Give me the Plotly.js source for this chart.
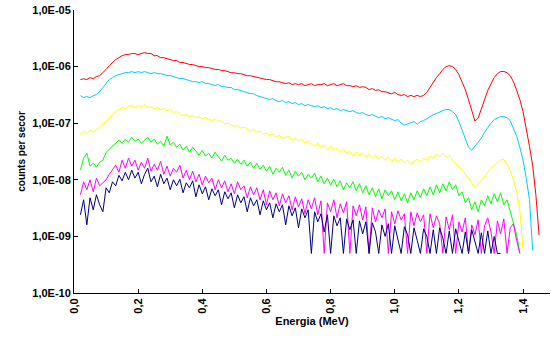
<!DOCTYPE html>
<html>
<head>
<meta charset="utf-8">
<script src="https://cdn.plot.ly/plotly-3.0.1.min.js"></script>
<style>html,body{margin:0;padding:0;background:#fff;}#chart{width:551px;height:342px;}</style>
</head>
<body>
<div id="chart"></div>
<script>
// Energy (MeV) of sampled channels
const energy = [0.02,0.03,0.04,0.05,0.06,0.07,0.08,0.09,0.10,0.11,
0.12,0.13,0.14,0.15,0.16,0.17,0.18,0.19,0.20,0.21,
0.22,0.23,0.24,0.25,0.26,0.27,0.28,0.29,0.30,0.31,
0.32,0.33,0.34,0.35,0.36,0.37,0.38,0.39,0.40,0.41,
0.42,0.43,0.44,0.45,0.46,0.47,0.48,0.49,0.50,0.51,
0.52,0.53,0.54,0.55,0.56,0.57,0.58,0.59,0.60,0.61,
0.62,0.63,0.64,0.65,0.66,0.67,0.68,0.69,0.70,0.71,
0.72,0.73,0.74,0.75,0.76,0.77,0.78,0.79,0.80,0.81,
0.82,0.83,0.84,0.85,0.86,0.87,0.88,0.89,0.90,0.91,
0.92,0.93,0.94,0.95,0.96,0.97,0.98,0.99,1.00,1.01,
1.02,1.03,1.04,1.05,1.06,1.07,1.08,1.09,1.10,1.11,
1.12,1.13,1.14,1.15,1.16,1.17,1.18,1.19,1.20,1.21,
1.22,1.23,1.24,1.25,1.26,1.27,1.28,1.29,1.30,1.31,
1.32,1.33,1.34,1.35,1.36,1.37,1.38,1.39,1.40,1.41,
1.42,1.43,1.44,1.45];

const redSeries = [5.9e-7,6.1e-7,5.9e-7,6.4e-7,6.1e-7,6.7e-7,6.9e-7,7.8e-7,8.9e-7,1.04e-6,
1.18e-6,1.33e-6,1.44e-6,1.56e-6,1.63e-6,1.63e-6,1.70e-6,1.70e-6,1.63e-6,1.70e-6,
1.77e-6,1.70e-6,1.70e-6,1.56e-6,1.56e-6,1.44e-6,1.44e-6,1.38e-6,1.33e-6,1.28e-6,
1.28e-6,1.18e-6,1.18e-6,1.13e-6,1.09e-6,1.09e-6,1.04e-6,1.0e-6,1.0e-6,9.6e-7,
9.6e-7,9.2e-7,8.9e-7,8.9e-7,8.5e-7,8.5e-7,8.2e-7,7.8e-7,7.8e-7,7.5e-7,
7.5e-7,7.2e-7,6.9e-7,6.9e-7,6.7e-7,6.4e-7,6.4e-7,6.1e-7,5.9e-7,5.9e-7,
5.7e-7,5.4e-7,5.4e-7,5.2e-7,5.0e-7,5.2e-7,4.8e-7,5.0e-7,4.8e-7,5.0e-7,
4.6e-7,4.8e-7,5.0e-7,4.6e-7,4.8e-7,4.8e-7,5.0e-7,4.6e-7,4.8e-7,5.0e-7,
4.6e-7,4.8e-7,5.0e-7,4.6e-7,4.6e-7,4.4e-7,4.6e-7,4.3e-7,4.4e-7,4.3e-7,
3.9e-7,4.1e-7,3.8e-7,3.9e-7,3.6e-7,3.6e-7,3.5e-7,3.3e-7,3.5e-7,3.2e-7,
3.1e-7,3.2e-7,2.95e-7,3.1e-7,2.95e-7,3.1e-7,2.95e-7,3.1e-7,3.5e-7,4.3e-7,
5.2e-7,6.4e-7,7.5e-7,8.9e-7,1.0e-6,1.04e-6,1.0e-6,8.9e-7,7.2e-7,5.4e-7,
3.9e-7,2.6e-7,1.67e-7,1.09e-7,1.23e-7,1.74e-7,2.6e-7,3.8e-7,5.0e-7,6.4e-7,
7.5e-7,8.2e-7,8.2e-7,7.8e-7,6.9e-7,5.4e-7,3.8e-7,2.6e-7,1.6e-7,8.2e-8,
3.9e-8,1.8e-8,5.4e-9,1.05e-9];

const cyanSeries = [3.07e-7,2.83e-7,2.95e-7,2.83e-7,3.07e-7,3.20e-7,3.62e-7,4.26e-7,5.01e-7,5.89e-7,
6.39e-7,6.94e-7,7.22e-7,7.52e-7,7.84e-7,7.84e-7,8.16e-7,7.84e-7,8.16e-7,7.84e-7,
8.16e-7,7.84e-7,7.52e-7,7.84e-7,7.52e-7,7.52e-7,7.22e-7,6.94e-7,6.94e-7,6.66e-7,
6.39e-7,6.14e-7,6.14e-7,5.89e-7,5.66e-7,5.43e-7,5.43e-7,5.22e-7,5.43e-7,5.01e-7,
5.01e-7,4.81e-7,4.62e-7,4.81e-7,4.43e-7,4.43e-7,4.26e-7,4.26e-7,3.92e-7,3.92e-7,
3.77e-7,3.62e-7,3.47e-7,3.33e-7,3.33e-7,3.07e-7,2.95e-7,2.83e-7,2.72e-7,2.61e-7,
2.72e-7,2.51e-7,2.41e-7,2.51e-7,2.31e-7,2.41e-7,2.22e-7,2.31e-7,2.13e-7,2.22e-7,
2.04e-7,2.13e-7,2.04e-7,1.96e-7,2.04e-7,1.88e-7,1.96e-7,1.81e-7,1.88e-7,1.74e-7,
1.81e-7,1.67e-7,1.74e-7,1.67e-7,1.60e-7,1.67e-7,1.54e-7,1.48e-7,1.54e-7,1.42e-7,
1.36e-7,1.42e-7,1.31e-7,1.25e-7,1.31e-7,1.20e-7,1.25e-7,1.16e-7,1.11e-7,1.16e-7,
1.0e-7,9.22e-8,9.6e-8,1.0e-7,1.07e-7,9.6e-8,1.07e-7,1.11e-7,1.20e-7,1.31e-7,
1.42e-7,1.48e-7,1.60e-7,1.67e-7,1.74e-7,1.74e-7,1.60e-7,1.42e-7,1.07e-7,7.52e-8,
5.01e-8,3.77e-8,3.33e-8,3.92e-8,4.43e-8,5.43e-8,6.94e-8,8.5e-8,1.0e-7,1.16e-7,
1.25e-7,1.31e-7,1.31e-7,1.25e-7,1.11e-7,8.16e-8,5.89e-8,3.77e-8,2.22e-8,1.07e-8,
4.43e-9,5.66e-10];

const yellowSeries = [6.39e-8,7.22e-8,6.66e-8,7.52e-8,6.94e-8,7.84e-8,8.5e-8,9.6e-8,1.11e-7,1.25e-7,
1.42e-7,1.60e-7,1.74e-7,1.88e-7,1.81e-7,1.96e-7,2.04e-7,1.88e-7,2.04e-7,1.96e-7,
2.13e-7,1.88e-7,1.96e-7,1.81e-7,1.88e-7,1.74e-7,1.81e-7,1.67e-7,1.74e-7,1.54e-7,
1.60e-7,1.48e-7,1.36e-7,1.42e-7,1.31e-7,1.36e-7,1.25e-7,1.31e-7,1.20e-7,1.25e-7,
1.16e-7,1.11e-7,1.20e-7,1.07e-7,1.11e-7,9.6e-8,1.0e-7,9.22e-8,8.85e-8,9.22e-8,
8.16e-8,8.5e-8,7.84e-8,7.22e-8,7.84e-8,6.94e-8,7.22e-8,6.39e-8,6.66e-8,6.14e-8,
6.39e-8,5.66e-8,6.14e-8,5.43e-8,5.66e-8,5.89e-8,5.01e-8,5.43e-8,4.81e-8,5.22e-8,
4.43e-8,4.81e-8,4.26e-8,3.92e-8,4.43e-8,3.77e-8,4.09e-8,3.47e-8,3.92e-8,3.33e-8,
3.62e-8,3.07e-8,3.47e-8,2.95e-8,3.20e-8,2.61e-8,3.07e-8,2.72e-8,2.95e-8,2.51e-8,
2.83e-8,2.41e-8,2.72e-8,2.31e-8,2.61e-8,2.22e-8,2.51e-8,2.13e-8,2.41e-8,2.04e-8,
2.31e-8,1.96e-8,2.22e-8,1.88e-8,2.13e-8,2.31e-8,2.04e-8,2.41e-8,2.22e-8,2.61e-8,
2.41e-8,2.83e-8,2.61e-8,2.95e-8,2.51e-8,2.72e-8,2.22e-8,1.96e-8,1.74e-8,1.48e-8,
1.25e-8,1.07e-8,8.85e-9,7.22e-9,8.5e-9,1.0e-8,1.16e-8,1.36e-8,1.60e-8,1.81e-8,
2.04e-8,2.22e-8,2.31e-8,1.88e-8,1.48e-8,1.0e-8,6.14e-9,2.95e-9,5.66e-10];

const greenSeries = [1.48e-8,2.41e-8,2.95e-8,1.74e-8,1.96e-8,1.67e-8,2.04e-8,2.22e-8,3.07e-8,3.47e-8,
3.92e-8,4.26e-8,5.01e-8,4.43e-8,5.22e-8,4.62e-8,5.66e-8,4.81e-8,5.22e-8,4.43e-8,
5.01e-8,5.66e-8,4.62e-8,5.22e-8,4.26e-8,4.81e-8,3.92e-8,5.89e-8,4.09e-8,4.62e-8,
3.77e-8,4.26e-8,3.33e-8,3.92e-8,3.07e-8,3.77e-8,3.20e-8,2.72e-8,3.33e-8,2.61e-8,
2.95e-8,2.41e-8,3.07e-8,2.51e-8,2.13e-8,2.72e-8,2.22e-8,2.41e-8,1.96e-8,2.31e-8,
1.88e-8,2.22e-8,1.74e-8,2.04e-8,1.60e-8,1.96e-8,1.54e-8,1.81e-8,1.42e-8,1.74e-8,
1.25e-8,1.60e-8,1.36e-8,1.67e-8,1.20e-8,1.48e-8,1.07e-8,1.42e-8,1.16e-8,1.36e-8,
1.0e-8,1.25e-8,1.07e-8,1.31e-8,9.22e-9,1.16e-8,8.5e-9,1.07e-8,8.16e-9,1.02e-8,
7.52e-9,9.6e-9,6.66e-9,8.85e-9,7.22e-9,9.22e-9,6.39e-9,8.5e-9,5.89e-9,7.84e-9,
5.43e-9,7.22e-9,5.01e-9,6.94e-9,4.62e-9,6.66e-9,5.22e-9,6.39e-9,4.43e-9,6.14e-9,
4.26e-9,5.66e-9,3.92e-9,5.89e-9,4.43e-9,6.39e-9,4.81e-9,6.94e-9,5.22e-9,7.52e-9,
5.43e-9,8.16e-9,5.89e-9,8.5e-9,6.39e-9,9.22e-9,6.66e-9,8.16e-9,5.22e-9,6.14e-9,
3.92e-9,4.81e-9,2.95e-9,4.09e-9,2.72e-9,4.43e-9,3.47e-9,5.22e-9,3.77e-9,5.66e-9,
4.09e-9,5.89e-9,3.62e-9,4.43e-9,2.72e-9,1.81e-9,1.07e-9,5.01e-10];

const magentaSeries = [5.43e-9,9.22e-9,6.66e-9,1.0e-8,6.14e-9,1.07e-8,7.84e-9,8.85e-9,1.0e-8,1.25e-8,
1.48e-8,1.81e-8,1.36e-8,2.22e-8,1.60e-8,2.41e-8,1.74e-8,2.22e-8,1.48e-8,2.04e-8,
1.60e-8,2.41e-8,1.42e-8,1.88e-8,1.48e-8,2.13e-8,1.25e-8,1.74e-8,1.16e-8,1.60e-8,
1.36e-8,1.81e-8,1.07e-8,1.48e-8,1.0e-8,1.42e-8,9.22e-9,1.25e-8,8.16e-9,1.16e-8,
8.85e-9,1.07e-8,6.66e-9,1.0e-8,7.22e-9,9.6e-9,6.14e-9,8.5e-9,5.66e-9,9.22e-9,
6.66e-9,7.84e-9,4.81e-9,7.52e-9,5.43e-9,7.22e-9,4.43e-9,6.66e-9,3.62e-9,6.39e-9,
4.43e-9,5.89e-9,3.47e-9,5.66e-9,3.92e-9,5.22e-9,2.95e-9,5.01e-9,3.33e-9,4.62e-9,
2.51e-9,4.43e-9,3.07e-9,4.81e-9,2.41e-9,4.26e-9,5.0e-10,3.92e-9,2.72e-9,4.43e-9,
2.13e-9,3.77e-9,2.61e-9,4.09e-9,5.0e-10,3.47e-9,2.31e-9,3.62e-9,1.96e-9,3.33e-9,
5.0e-10,3.20e-9,1.81e-9,2.95e-9,2.13e-9,3.07e-9,5.0e-10,2.72e-9,1.67e-9,2.83e-9,
1.96e-9,2.51e-9,5.0e-10,2.72e-9,1.54e-9,2.61e-9,1.81e-9,2.41e-9,5.0e-10,2.51e-9,
1.42e-9,2.31e-9,1.67e-9,5.0e-10,2.22e-9,1.31e-9,2.41e-9,5.0e-10,1.81e-9,1.20e-9,
2.13e-9,5.0e-10,1.60e-9,1.07e-9,1.96e-9,5.0e-10,1.54e-9,2.13e-9,1.20e-9,5.0e-10,
1.88e-9,1.11e-9,2.04e-9,5.0e-10,1.42e-9,1.67e-9,8.5e-10,5.0e-10];

const navySeries = [2.41e-9,4.43e-9,1.60e-9,4.81e-9,2.95e-9,5.43e-9,3.62e-9,2.72e-9,7.22e-9,5.89e-9,
9.22e-9,7.84e-9,1.20e-8,9.6e-9,1.36e-8,1.0e-8,1.48e-8,1.07e-8,1.36e-8,8.5e-9,
1.25e-8,1.60e-8,9.22e-9,1.16e-8,7.52e-9,1.25e-8,8.5e-9,1.07e-8,6.66e-9,1.0e-8,
7.84e-9,1.02e-8,5.89e-9,8.85e-9,7.22e-9,9.6e-9,5.01e-9,8.16e-9,5.66e-9,7.52e-9,
4.43e-9,6.94e-9,5.22e-9,6.66e-9,3.62e-9,6.14e-9,4.62e-9,5.89e-9,3.20e-9,5.43e-9,
3.92e-9,5.01e-9,2.72e-9,4.81e-9,3.47e-9,4.43e-9,2.41e-9,4.26e-9,2.95e-9,3.92e-9,
2.13e-9,3.77e-9,2.72e-9,3.62e-9,1.60e-9,3.47e-9,2.31e-9,3.20e-9,1.42e-9,3.07e-9,
2.13e-9,2.95e-9,5.0e-10,2.72e-9,1.81e-9,2.51e-9,1.20e-9,2.41e-9,5.0e-10,2.31e-9,
1.54e-9,2.13e-9,5.0e-10,2.04e-9,1.31e-9,1.96e-9,5.0e-10,1.88e-9,1.11e-9,1.81e-9,
5.0e-10,1.74e-9,1.20e-9,5.0e-10,1.60e-9,1.0e-9,1.67e-9,5.0e-10,1.54e-9,9.22e-10,
5.0e-10,1.48e-9,1.07e-9,5.0e-10,1.42e-9,8.5e-10,5.0e-10,1.36e-9,1.0e-9,5.0e-10,
1.31e-9,5.0e-10,1.42e-9,9.22e-10,5.0e-10,1.25e-9,5.0e-10,1.36e-9,8.5e-10,5.0e-10,
1.20e-9,5.0e-10,1.31e-9,7.84e-10,5.0e-10,1.16e-9,5.0e-10,1.25e-9,5.0e-10,1.0e-9,
5.0e-10,5.0e-10];

const xTickVals = [0,0.2,0.4,0.6,0.8,1.0,1.2,1.4];
const xTickText = ["0,0","0,2","0,4","0,6","0,8","1,0","1,2","1,4"];
const yTickVals = [1e-10,1e-9,1e-8,1e-7,1e-6,1e-5];
const yTickText = ["1,0E-10","1,0E-09","1,0E-08","1,0E-07","1,0E-06","1,0E-05"];

const seriesList = [
  {y: redSeries, color: "#FF0000"},
  {y: cyanSeries, color: "#00CCFF"},
  {y: yellowSeries, color: "#FFFF00"},
  {y: greenSeries, color: "#00FF00"},
  {y: magentaSeries, color: "#FF00FF"},
  {y: navySeries, color: "#000080"}
];

const traces = seriesList.map(s => ({
  type: "scatter", mode: "lines",
  x: energy.slice(0, s.y.length), y: s.y,
  line: {color: s.color, width: 1},
  hoverinfo: "skip", showlegend: false
}));

const fontFam = "Liberation Sans, Arial, sans-serif";
const layout = {
  width: 551, height: 342,
  margin: {l: 74, r: 1, t: 10, b: 49, pad: 0},
  paper_bgcolor: "#ffffff", plot_bgcolor: "#ffffff",
  showlegend: false,
  font: {family: fontFam, color: "#000000", size: 11, weight: "bold"},
  xaxis: {
    range: [0, 1.484], tickvals: xTickVals, ticktext: xTickText, tickangle: -90,
    ticks: "inside", ticklen: 4, tickcolor: "#000", tickwidth: 1,
    showline: true, linecolor: "#000", linewidth: 1, showgrid: false, zeroline: false,
    tickfont: {family: fontFam, size: 11, weight: "bold"},
    title: {text: "Energia (MeV)", font: {family: fontFam, size: 11, weight: "bold"}, standoff: 4},
    automargin: false
  },
  yaxis: {
    type: "log", range: [-10, -5], tickvals: yTickVals, ticktext: yTickText,
    ticks: "inside", ticklen: 4, tickcolor: "#000", tickwidth: 1,
    showline: true, linecolor: "#000", linewidth: 1, showgrid: false, zeroline: false,
    tickfont: {family: fontFam, size: 11, weight: "bold"},
    title: {text: "counts per secor", font: {family: fontFam, size: 10, weight: "bold"}, standoff: 4},
    automargin: false
  }
};

Plotly.newPlot("chart", traces, layout, {staticPlot: true, displayModeBar: false});
</script>
</body>
</html>
